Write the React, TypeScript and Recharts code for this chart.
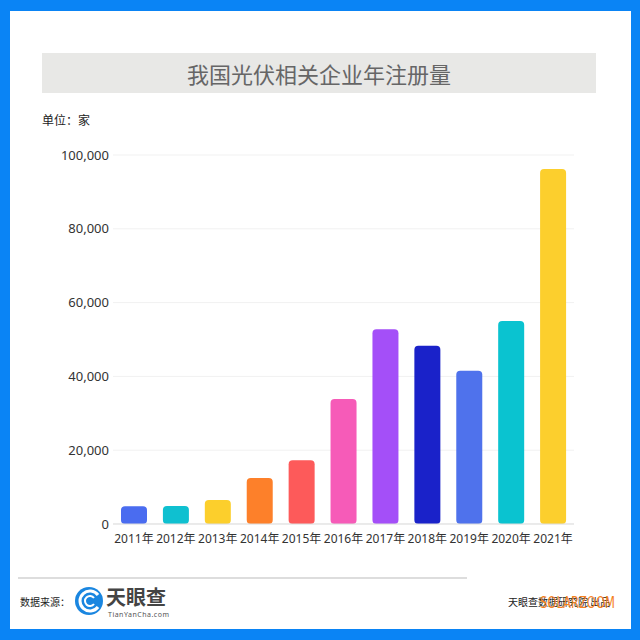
import { BarChart, Bar, XAxis, YAxis, CartesianGrid, Cell } from 'recharts'

const years = ['2011年', '2012年', '2013年', '2014年', '2015年', '2016年', '2017年', '2018年', '2019年', '2020年', '2021年']
const counts = [4800, 4900, 6500, 12500, 17300, 33900, 52800, 48300, 41500, 55000, 96200]
const barColors = ['#4a6cf0', '#0fc0d0', '#fccf2c', '#fd802a', '#fd5a5a', '#f65bb8', '#a44ff8', '#1a22c9', '#4f72ec', '#0ac3d0', '#fccf2d']
const yTicks = [0, 20000, 40000, 60000, 80000, 100000]

const data = years.map((name, i) => ({ name, value: counts[i] }))

const font = '"Noto Sans", "Noto Sans CJK SC", sans-serif'
const cjk = '"Noto Sans CJK SC", sans-serif'

export default function App() {
    return (
        <div style={{ position: 'absolute', left: 0, top: 0, width: 640, height: 640, background: '#0a84f5', fontFamily: font }}>
            <div style={{ position: 'absolute', left: 10, top: 11, width: 621, height: 618, background: '#fff' }} />
            <div style={{
                position: 'absolute', left: 42, top: 53, width: 554, height: 40, background: '#e8e8e6',
                color: '#666', fontSize: 22, lineHeight: '40px', textAlign: 'center', fontFamily: cjk
            }}>
                我国光伏相关企业年注册量
            </div>
            <div style={{ position: 'absolute', left: 42, top: 111, fontSize: 12, color: '#222', fontFamily: cjk }}>
                单位：家
            </div>

            <div style={{ position: 'absolute', left: 0, top: 0 }}>
                <BarChart
                    width={640}
                    height={640}
                    data={data}
                    margin={{ top: 155, right: 66, bottom: 86, left: 53 }}
                >
                    <CartesianGrid vertical={false} stroke="#f1f1f1" />
                    <XAxis
                        dataKey="name"
                        height={30}
                        axisLine={{ stroke: '#dddddd' }}
                        tickLine={false}
                        interval={0}
                        tickMargin={4}
                        tick={{ fontSize: 12, fill: '#333', fontFamily: font }}
                    />
                    <YAxis
                        width={60}
                        domain={[0, 100000]}
                        ticks={yTicks}
                        axisLine={false}
                        tickLine={false}
                        tickSize={0}
                        tickMargin={4}
                        tickFormatter={(v) => v.toLocaleString('en-US')}
                        tick={{ fontSize: 13, fill: '#333', fontFamily: font }}
                    />
                    <Bar dataKey="value" barSize={26} radius={4} isAnimationActive={false}>
                        {data.map((d, i) => (
                            <Cell key={d.name} fill={barColors[i]} />
                        ))}
                    </Bar>
                </BarChart>
            </div>

            {/* footer */}
            <div style={{ position: 'absolute', left: 18, top: 577, width: 449, height: 2, background: '#dddddd' }} />
            <div style={{ position: 'absolute', left: 20, top: 594, fontSize: 10, color: '#222', fontFamily: cjk }}>
                数据来源：
            </div>
            <svg style={{ position: 'absolute', left: 74, top: 586 }} width={30} height={30} viewBox="0 0 30 30">
                <circle cx={15} cy={15} r={14} fill="#1a86e0" />
                <path d="M24 9 A10 10 0 1 0 24 21" stroke="#fff" strokeWidth={3} fill="none" />
                <path d="M20 12 A5 5 0 1 0 20 18" stroke="#fff" strokeWidth={2} fill="none" />
            </svg>
            <div style={{ position: 'absolute', left: 106, top: 587, fontSize: 20, color: '#444', fontWeight: 600, fontFamily: cjk, lineHeight: '20px' }}>
                天眼查
            </div>
            <div style={{ position: 'absolute', left: 108, top: 611, fontSize: 7, color: '#555', letterSpacing: 0.5, lineHeight: '7px' }}>
                TianYanCha.com
            </div>
            <div style={{ position: 'absolute', left: 508, top: 594, fontSize: 10, color: '#222', fontFamily: cjk }}>
                天眼查数据研究院 出品
            </div>
            <div style={{
                position: 'absolute', left: 540, top: 593, fontSize: 16, color: '#f5821f', fontWeight: 500,
                fontFamily: '"DejaVu Sans", sans-serif', transform: 'scaleX(0.72)', transformOrigin: 'left'
            }}>
                SOLARZOOM
            </div>
        </div>
    )
}
